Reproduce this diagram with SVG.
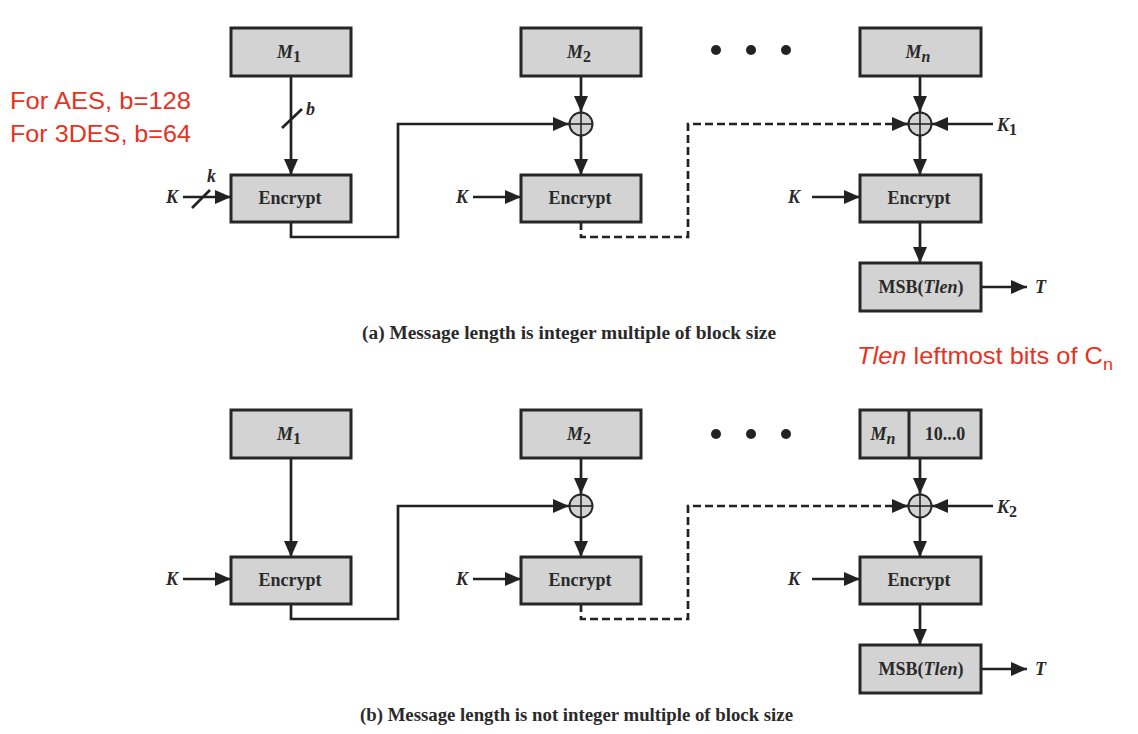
<svg xmlns="http://www.w3.org/2000/svg" width="1138" height="734" viewBox="0 0 1138 734">
<defs>
<marker id="ah" markerUnits="userSpaceOnUse" markerWidth="16" markerHeight="14" refX="16" refY="7" orient="auto">
<path d="M0,0 L16,7 L0,14 z" fill="#222"/>
</marker>
</defs>
<style>
.box{fill:#d3d3d3;stroke:#262626;stroke-width:3}
.xor{fill:#d3d3d3;stroke:#262626;stroke-width:2}
.xl{stroke:#262626;stroke-width:1.6}
.ln{fill:none;stroke:#222;stroke-width:2.7}
.ar{marker-end:url(#ah)}
.da{stroke-dasharray:8 4}
.t{font-family:"Liberation Serif","Times New Roman",serif;font-weight:bold;fill:#2a2a2a;font-size:18px}
.i{font-style:italic}
.red{font-family:"Liberation Sans",Arial,sans-serif;fill:#e8321f;font-size:24px}
.dot{fill:#222}
</style>
<rect width="1138" height="734" fill="#fff"/>

<!-- annotations -->
<text class="red" x="10" y="109" textLength="181" lengthAdjust="spacingAndGlyphs">For AES, b=128</text>
<text class="red" x="10" y="142" textLength="181" lengthAdjust="spacingAndGlyphs">For 3DES, b=64</text>
<text class="red" x="857" y="364" textLength="256" lengthAdjust="spacingAndGlyphs"><tspan font-style="italic">Tlen</tspan> leftmost bits of C<tspan font-size="17" dy="6">n</tspan></text>

<!-- connectors -->
<g id="connectors">
<!-- (a) -->
<line class="ln ar" x1="291" y1="76" x2="291" y2="175"/>
<line class="ln" x1="282" y1="128" x2="302" y2="109"/>
<line class="ln ar" x1="183" y1="197" x2="231" y2="197"/>
<line class="ln" x1="192" y1="208" x2="210" y2="190"/>
<polyline class="ln ar" points="291,222 291,237 398,237 398,124 569,124"/>
<line class="ln ar" x1="581" y1="76" x2="581" y2="112"/>
<line class="ln ar" x1="581" y1="136" x2="581" y2="175"/>
<line class="ln ar" x1="473" y1="197" x2="521" y2="197"/>
<polyline class="ln da" points="581,222 581,237 688,237 688,124 895,124"/>
<line class="ln ar" x1="893" y1="124" x2="908" y2="124"/>
<line class="ln ar" x1="920" y1="76" x2="920" y2="112"/>
<line class="ln ar" x1="993" y1="124" x2="932" y2="124"/>
<line class="ln ar" x1="920" y1="136" x2="920" y2="175"/>
<line class="ln ar" x1="812" y1="197" x2="860" y2="197"/>
<line class="ln ar" x1="920" y1="222" x2="920" y2="263"/>
<line class="ln ar" x1="981" y1="287" x2="1027" y2="287"/>
<!-- (b) -->
<line class="ln ar" x1="291" y1="458" x2="291" y2="557"/>
<line class="ln ar" x1="183" y1="579" x2="231" y2="579"/>
<polyline class="ln ar" points="291,604 291,619 398,619 398,506 569,506"/>
<line class="ln ar" x1="581" y1="458" x2="581" y2="494"/>
<line class="ln ar" x1="581" y1="518" x2="581" y2="557"/>
<line class="ln ar" x1="473" y1="579" x2="521" y2="579"/>
<polyline class="ln da" points="581,604 581,619 688,619 688,506 895,506"/>
<line class="ln ar" x1="893" y1="506" x2="908" y2="506"/>
<line class="ln ar" x1="920" y1="458" x2="920" y2="494"/>
<line class="ln ar" x1="993" y1="506" x2="932" y2="506"/>
<line class="ln ar" x1="920" y1="518" x2="920" y2="557"/>
<line class="ln ar" x1="812" y1="579" x2="860" y2="579"/>
<line class="ln ar" x1="920" y1="604" x2="920" y2="645"/>
<line class="ln ar" x1="981" y1="669" x2="1027" y2="669"/>
</g>

<!-- labels on connectors -->
<g id="labels">
<text class="t i" x="306" y="115" font-size="16">b</text>
<text class="t i" x="207" y="182" font-size="16">k</text>
<text class="t i" x="166" y="203">K</text>
<text class="t i" x="456" y="203">K</text>
<text class="t i" x="788" y="203">K</text>
<text class="t i" x="997" y="131">K<tspan font-style="normal" font-size="16" dy="4">1</tspan></text>
<text class="t i" x="1035" y="293">T</text>
<text class="t i" x="166" y="585">K</text>
<text class="t i" x="456" y="585">K</text>
<text class="t i" x="788" y="585">K</text>
<text class="t i" x="997" y="513">K<tspan font-style="normal" font-size="16" dy="4">2</tspan></text>
<text class="t i" x="1035" y="675">T</text>
</g>

<g id="dots_a"><circle class="dot" cx="716" cy="50" r="5"/><circle class="dot" cx="751" cy="50" r="5"/><circle class="dot" cx="786" cy="50" r="5"/></g>
<g id="dots_b"><circle class="dot" cx="716" cy="434" r="5"/><circle class="dot" cx="751" cy="434" r="5"/><circle class="dot" cx="786" cy="434" r="5"/></g>

<!-- (a) nodes -->
<g id="a_M1"><rect class="box" x="231" y="28" width="120" height="48"/><text class="t i" x="289" y="58" text-anchor="middle">M<tspan font-style="normal" font-size="16" dy="4">1</tspan></text></g>
<g id="a_Enc1"><rect class="box" x="231" y="175" width="120" height="47"/><text class="t" x="290" y="204" text-anchor="middle">Encrypt</text></g>
<g id="a_M2"><rect class="box" x="521" y="28" width="120" height="48"/><text class="t i" x="579" y="58" text-anchor="middle">M<tspan font-style="normal" font-size="16" dy="4">2</tspan></text></g>
<g id="a_X2"><circle class="xor" cx="581" cy="124" r="11.5"/><line class="xl" x1="569.5" y1="124" x2="592.5" y2="124"/><line class="xl" x1="581" y1="112.5" x2="581" y2="135.5"/></g>
<g id="a_Enc2"><rect class="box" x="521" y="175" width="120" height="47"/><text class="t" x="580" y="204" text-anchor="middle">Encrypt</text></g>
<g id="a_Mn"><rect class="box" x="860" y="28" width="121" height="48"/><text class="t i" x="918" y="58" text-anchor="middle">M<tspan font-size="16" dy="4">n</tspan></text></g>
<g id="a_X3"><circle class="xor" cx="920" cy="124" r="11.5"/><line class="xl" x1="908.5" y1="124" x2="931.5" y2="124"/><line class="xl" x1="920" y1="112.5" x2="920" y2="135.5"/></g>
<g id="a_Enc3"><rect class="box" x="860" y="175" width="121" height="47"/><text class="t" x="919" y="204" text-anchor="middle">Encrypt</text></g>
<g id="a_MSB"><rect class="box" x="860" y="263" width="121" height="48"/><text class="t" x="921" y="293" text-anchor="middle" font-size="19">MSB(<tspan font-style="italic">Tlen</tspan>)</text></g>
<g id="a_caption"><text class="t" x="362" y="339" font-size="19" textLength="414" lengthAdjust="spacingAndGlyphs">(a) Message length is integer multiple of block size</text></g>

<!-- (b) nodes -->
<g id="b_M1"><rect class="box" x="231" y="410" width="120" height="48"/><text class="t i" x="289" y="440" text-anchor="middle">M<tspan font-style="normal" font-size="16" dy="4">1</tspan></text></g>
<g id="b_Enc1"><rect class="box" x="231" y="557" width="120" height="47"/><text class="t" x="290" y="586" text-anchor="middle">Encrypt</text></g>
<g id="b_M2"><rect class="box" x="521" y="410" width="120" height="48"/><text class="t i" x="579" y="440" text-anchor="middle">M<tspan font-style="normal" font-size="16" dy="4">2</tspan></text></g>
<g id="b_X2"><circle class="xor" cx="581" cy="506" r="11.5"/><line class="xl" x1="569.5" y1="506" x2="592.5" y2="506"/><line class="xl" x1="581" y1="494.5" x2="581" y2="517.5"/></g>
<g id="b_Enc2"><rect class="box" x="521" y="557" width="120" height="47"/><text class="t" x="580" y="586" text-anchor="middle">Encrypt</text></g>
<g id="b_Mn"><rect class="box" x="860" y="410" width="121" height="48"/><line stroke="#262626" stroke-width="3" x1="909" y1="410" x2="909" y2="458"/><text class="t i" x="883" y="440" text-anchor="middle">M<tspan font-size="16" dy="4">n</tspan></text><text class="t" x="945" y="440" text-anchor="middle" font-size="17">10...0</text></g>
<g id="b_X3"><circle class="xor" cx="920" cy="506" r="11.5"/><line class="xl" x1="908.5" y1="506" x2="931.5" y2="506"/><line class="xl" x1="920" y1="494.5" x2="920" y2="517.5"/></g>
<g id="b_Enc3"><rect class="box" x="860" y="557" width="121" height="47"/><text class="t" x="919" y="586" text-anchor="middle">Encrypt</text></g>
<g id="b_MSB"><rect class="box" x="860" y="645" width="121" height="48"/><text class="t" x="921" y="675" text-anchor="middle" font-size="19">MSB(<tspan font-style="italic">Tlen</tspan>)</text></g>
<g id="b_caption"><text class="t" x="360" y="721" font-size="19" textLength="433" lengthAdjust="spacingAndGlyphs">(b) Message length is not integer multiple of block size</text></g>
</svg>
